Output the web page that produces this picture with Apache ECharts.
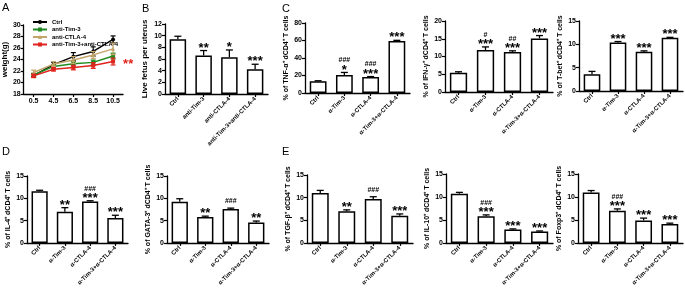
<!DOCTYPE html>
<html><head><meta charset="utf-8">
<script src="https://cdn.jsdelivr.net/npm/echarts@6/dist/echarts.min.js"></script>
<style>html,body{margin:0;padding:0;background:#fff}#c{width:685px;height:288px}</style>
</head><body><div id="c"></div>
<script>
// ---- Panel A: body weight ----
const days = ['0.5','4.5','6.5','8.5','10.5'];
const ctrlW  = [21.2, 23.1, 24.5, 25.4, 27.5];
const ctrlWE = [0.3, 0.4, 0.7, 0.8, 0.6];
const tim3W  = [21.3, 22.8, 23.25, 23.5, 24.6];
const tim3WE = [0.3, 0.3, 0.4, 0.4, 0.5];
const ctlaW  = [21.75, 23.2, 23.9, 24.8, 25.85];
const ctlaWE = [0.4, 0.4, 0.6, 0.6, 1.0];
const comboW = [21.15, 22.3, 22.6, 22.95, 23.65];
const comboWE= [0.3, 0.3, 0.4, 0.5, 0.6];
const groupNamesA = ['Ctrl','anti-Tim-3','anti-CTLA-4','anti-Tim-3+anti-CTLA-4'];

// ---- Bar panel categories ----
const catsB = ['Ctrl','anti-Tim-3','anti-CTLA-4','anti-Tim-3+anti-CTLA-4'];
const cats  = ['Ctrl','α-Tim-3','α-CTLA-4','α-Tim-3+α-CTLA-4'];

// ---- Bar panel values ----
const fetusV = [9.4, 6.6, 6.3, 4.25];   const fetusE = [0.5, 0.85, 1.25, 0.85];
const fetusS = ['', '**', '*', '***'];  const fetusH = ['', '', '', ''];
const tnfV = [13.5, 20.5, 18.2, 59.5];  const tnfE = [0.5, 3.0, 0.6, 0.7];
const tnfS = ['', '*', '***', '***'];   const tnfH = ['', '###', '###', ''];
const ifnV = [5.4, 11.8, 11.3, 15.1];   const ifnE = [0.3, 0.9, 0.3, 0.8];
const ifnS = ['', '***', '***', '***']; const ifnH = ['', '#', '##', ''];
const tbetV = [3.6, 10.4, 8.4, 11.4];   const tbetE = [0.6, 0.2, 0.2, 0.1];
const tbetS = ['', '***', '***', '***'];const tbetH = ['', '', '', ''];
const il4V = [11.6, 7.0, 9.3, 5.6];     const il4E = [0.2, 0.9, 0.15, 0.6];
const il4S = ['', '**', '***', '***'];  const il4H = ['', '', '###', ''];
const gataV = [9.2, 5.8, 7.6, 4.6];     const gataE = [0.7, 0.2, 0.2, 0.3];
const gataS = ['', '**', '', '**'];     const gataH = ['', '', '###', ''];
const tgfV = [11.0, 7.0, 9.7, 6.0];     const tgfE = [0.6, 0.3, 0.5, 0.4];
const tgfS = ['', '**', '', '***'];     const tgfH = ['', '', '###', ''];
const il10V = [10.7, 5.8, 2.9, 2.5];    const il10E = [0.3, 0.3, 0.15, 0.1];
const il10S = ['', '***', '***', '***'];const il10H = ['', '###', '', ''];
const foxV = [11.0, 7.0, 4.9, 4.1];     const foxE = [0.4, 0.4, 0.5, 0.2];
const foxS = ['', '***', '***', '***']; const foxH = ['', '###', '', ''];

const FONT = '"Liberation Sans", Arial, sans-serif';
const panels = [
  {name:'Live fetus per uterus', cats:catsB, v:fetusV, e:fetusE, s:fetusS, h:fetusH, max:12, iv:2, g:[165,103,24,70], nameSize:8, gap:16},
  {name:'% of TNF-α⁺ dCD4⁺ T cells', cats:cats, v:tnfV, e:tnfE, s:tnfS, h:tnfH, max:80, iv:20, g:[305,105,23,70], gap:15},
  {name:'% of IFN-γ⁺ dCD4⁺ T cells', cats:cats, v:ifnV, e:ifnE, s:ifnS, h:ifnH, max:20, iv:5, g:[445,108,21,71], gap:15},
  {name:'% of T-bet⁺ dCD4⁺ T cells', cats:cats, v:tbetV, e:tbetE, s:tbetS, h:tbetH, max:15, iv:5, g:[579,104,21,70], gap:15},
  {name:'% of IL-4⁺ dCD4⁺ T cells', cats:cats, v:il4V, e:il4E, s:il4S, h:il4H, max:15, iv:5, g:[27,101,176,71], gap:15},
  {name:'% of GATA-3⁺ dCD4⁺ T cells', cats:cats, v:gataV, e:gataE, s:gataS, h:gataH, max:15, iv:5, g:[167,102,176,72], gap:15},
  {name:'% of TGF-β⁺ dCD4⁺ T cells', cats:cats, v:tgfV, e:tgfE, s:tgfS, h:tgfH, max:15, iv:5, g:[307,106,175,72], gap:15},
  {name:'% of IL-10⁺ dCD4⁺ T cells', cats:cats, v:il10V, e:il10E, s:il10S, h:il10H, max:15, iv:5, g:[446,107,174,72], gap:15},
  {name:'% of Foxp3⁺ dCD4⁺ T cells', cats:cats, v:foxV, e:foxE, s:foxS, h:foxH, max:15, iv:5, g:[578,105,174,72], gap:15}
];

const axisLine = {lineStyle:{color:'#000', width:1.3}};
const axisTick = {show:true, length:3, lineStyle:{color:'#000', width:1.2}};
const grids = [], xAxes = [], yAxes = [], series = [];

// Panel A
grids.push({left:22, width:101, top:25, height:69});
xAxes.push({type:'category', gridIndex:0, data:days, boundaryGap:true, axisLine, axisTick:Object.assign({alignWithLabel:true}, axisTick),
  axisLabel:{fontSize:7, fontWeight:'bold', color:'#000', fontFamily:FONT, margin:4}});
yAxes.push({type:'value', gridIndex:0, min:18, max:30, interval:2, axisLine:Object.assign({show:true}, axisLine), axisTick, splitLine:{show:false},
  axisLabel:{fontSize:7, fontWeight:'bold', color:'#000', fontFamily:FONT, margin:3},
  name:'weight(g)', nameLocation:'middle', nameGap:12, nameTextStyle:{fontSize:8, fontWeight:'bold', color:'#000', fontFamily:FONT}});
const colorsA = ['#000000', '#1f8a1f', '#c2a468', '#e0241e'];
const dataA = [ctrlW, tim3W, ctlaW, comboW];
const errA = [ctrlWE, tim3WE, ctlaWE, comboWE];
const symA = ['circle','rect','triangle','rect'];
dataA.forEach((d, k) => {
  series.push({type:'line', name:groupNamesA[k], xAxisIndex:0, yAxisIndex:0, data: d.map((v,i)=> k===3 && i===4 ? {value:v, label:{show:true, position:'right', formatter:'**', color:'#e0241e', fontSize:13, fontWeight:'bold', fontFamily:FONT, offset:[3,3]}} : v),
    symbol:symA[k], symbolSize:4, itemStyle:{color:colorsA[k]}, lineStyle:{color:colorsA[k], width:1.5}, z:3+k, animation:false});
  series.push({type:'custom', xAxisIndex:0, yAxisIndex:0, data: d.map((v,i)=>[i, v, errA[k][i]]), z:3+k, animation:false,
    renderItem:(params, api) => {
      const i = api.value(0), v = api.value(1), e = api.value(2);
      const a = api.coord([i, v+e]), b = api.coord([i, v-e]);
      const st = {stroke:colorsA[k], lineWidth:1.2};
      return {type:'group', children:[
        {type:'line', shape:{x1:a[0], y1:a[1], x2:b[0], y2:b[1]}, style:st},
        {type:'line', shape:{x1:a[0]-2.5, y1:a[1], x2:a[0]+2.5, y2:a[1]}, style:st},
        {type:'line', shape:{x1:b[0]-2.5, y1:b[1], x2:b[0]+2.5, y2:b[1]}, style:st}]};
    }});
});

// Bar panels
panels.forEach((p, idx) => {
  const gi = idx + 1;
  grids.push({left:p.g[0], width:p.g[1], top:p.g[2], height:p.g[3]});
  xAxes.push({type:'category', gridIndex:gi, data:p.cats, axisLine, axisTick:Object.assign({alignWithLabel:true}, axisTick),
    axisLabel:{rotate:45, fontSize:6, fontWeight:'bold', color:'#000', fontFamily:FONT, margin:4, interval:0}});
  yAxes.push({type:'value', gridIndex:gi, min:0, max:p.max, interval:p.iv, axisLine:Object.assign({show:true}, axisLine), axisTick, splitLine:{show:false},
    axisLabel:{fontSize:7, fontWeight:'bold', color:'#000', fontFamily:FONT, margin:3},
    name:p.name, nameLocation:'middle', nameGap:p.gap, nameTextStyle:{fontSize:p.nameSize||7, fontWeight:'bold', color:'#000', fontFamily:FONT}});
  series.push({type:'bar', xAxisIndex:gi, yAxisIndex:gi, data:p.v, barWidth:'64%',
    itemStyle:{color:'#fff', borderColor:'#000', borderWidth:1.5}, animation:false, z:2});
  series.push({type:'custom', xAxisIndex:gi, yAxisIndex:gi, data:p.v.map((v,i)=>[i, v, p.e[i]]), animation:false, z:3,
    renderItem:(params, api) => {
      const i = api.value(0), v = api.value(1), e = api.value(2);
      const a = api.coord([i, v]), b = api.coord([i, v+e]);
      const st = {stroke:'#000', lineWidth:1.3};
      const ch = [
        {type:'line', shape:{x1:a[0], y1:a[1], x2:b[0], y2:b[1]}, style:st},
        {type:'line', shape:{x1:b[0]-3.5, y1:b[1], x2:b[0]+3.5, y2:b[1]}, style:st}];
      const s = p.s[params.dataIndex], h = p.h[params.dataIndex];
      let hashTop;
      if (s) {
        ch.push({type:'text', style:{text:s, x:b[0], y:b[1]-9, align:'center', verticalAlign:'top', font:'bold 13px ' + FONT, fill:'#000'}});
        hashTop = b[1] - 15.5;
      } else {
        hashTop = b[1] - 10.5;
      }
      if (h) {
        ch.push({type:'text', style:{text:h, x:b[0], y:hashTop, align:'center', verticalAlign:'top', font:'bold 7px ' + FONT, fill:'#000'}});
      }
      return {type:'group', children:ch};
    }});
});

const letters = [['A',2,2],['B',142,3],['C',282,3],['D',2,146],['E',282,146]];
const chart = echarts.init(document.getElementById('c'), null, {renderer:'canvas'});
chart.setOption({
  animation:false,
  backgroundColor:'#fff',
  textStyle:{fontFamily:FONT},
  grid:grids, xAxis:xAxes, yAxis:yAxes, series,
  legend:{orient:'vertical', left:27, top:14, itemGap:1.5, itemWidth:14, itemHeight:5, data:groupNamesA,
    textStyle:{fontSize:6, fontWeight:'bold', color:'#000', fontFamily:FONT}},
  graphic: letters.map(l => ({type:'text', left:l[1], top:l[2], style:{text:l[0], font:'11px ' + FONT, fill:'#000'}}))
});
</script></body></html>
